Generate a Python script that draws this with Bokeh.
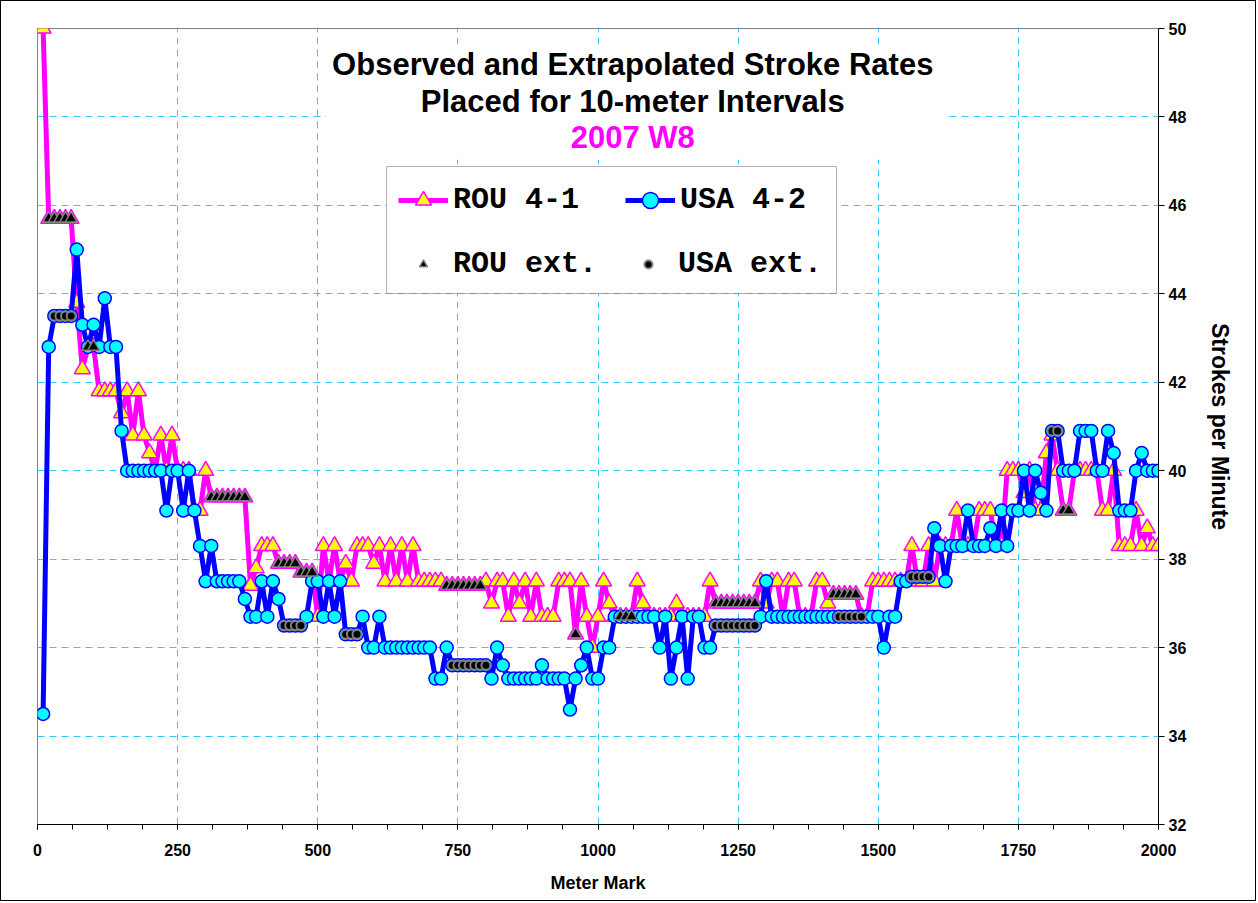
from bokeh.plotting import figure
from bokeh.models import (ColumnDataSource, Range1d, FixedTicker, Label,
                          BoxAnnotation, Legend, LegendItem)
from bokeh.embed import file_html
from bokeh.resources import INLINE

# ---------------- data ----------------
meters = [
    10, 20, 30, 40, 50, 60, 70, 80, 90, 100,
    110, 120, 130, 140, 150, 160, 170, 180, 190, 200,
    210, 220, 230, 240, 250, 260, 270, 280, 290, 300,
    310, 320, 330, 340, 350, 360, 370, 380, 390, 400,
    410, 420, 430, 440, 450, 460, 470, 480, 490, 500,
    510, 520, 530, 540, 550, 560, 570, 580, 590, 600,
    610, 620, 630, 640, 650, 660, 670, 680, 690, 700,
    710, 720, 730, 740, 750, 760, 770, 780, 790, 800,
    810, 820, 830, 840, 850, 860, 870, 880, 890, 900,
    910, 920, 930, 940, 950, 960, 970, 980, 990, 1000,
    1010, 1020, 1030, 1040, 1050, 1060, 1070, 1080, 1090, 1100,
    1110, 1120, 1130, 1140, 1150, 1160, 1170, 1180, 1190, 1200,
    1210, 1220, 1230, 1240, 1250, 1260, 1270, 1280, 1290, 1300,
    1310, 1320, 1330, 1340, 1350, 1360, 1370, 1380, 1390, 1400,
    1410, 1420, 1430, 1440, 1450, 1460, 1470, 1480, 1490, 1500,
    1510, 1520, 1530, 1540, 1550, 1560, 1570, 1580, 1590, 1600,
    1610, 1620, 1630, 1640, 1650, 1660, 1670, 1680, 1690, 1700,
    1710, 1720, 1730, 1740, 1750, 1760, 1770, 1780, 1790, 1800,
    1810, 1820, 1830, 1840, 1850, 1860, 1870, 1880, 1890, 1900,
    1910, 1920, 1930, 1940, 1950, 1960, 1970, 1980, 1990, 2000,
]

rou_spm = [
    50.0, 45.7, 45.7, 45.7, 45.7, 45.7, 43.8, 42.3, 42.8, 42.8,
    41.8, 41.8, 41.8, 41.8, 41.3, 41.8, 40.8, 41.8, 40.8, 40.4,
    40.0, 40.8, 40.0, 40.8, 40.0, 40.0, 40.0, 39.1, 39.1, 40.0,
    39.4, 39.4, 39.4, 39.4, 39.4, 39.4, 39.4, 37.4, 37.8, 38.3,
    38.3, 38.3, 37.9, 37.9, 37.9, 37.9, 37.7, 37.7, 37.7, 36.7,
    38.3, 37.5, 38.3, 37.5, 37.9, 37.5, 38.3, 38.3, 38.3, 37.9,
    38.3, 37.5, 38.3, 37.5, 38.3, 37.5, 38.3, 37.5, 37.5, 37.5,
    37.5, 37.5, 37.4, 37.4, 37.4, 37.4, 37.4, 37.4, 37.4, 37.5,
    37.0, 37.5, 37.5, 36.7, 37.5, 37.0, 37.5, 36.7, 37.5, 36.7,
    36.7, 36.7, 37.5, 37.5, 37.5, 36.3, 37.5, 36.7, 36.0, 36.7,
    37.5, 37.0, 36.7, 36.7, 36.7, 36.7, 37.5, 37.0, 36.7, 36.7,
    36.7, 36.7, 36.7, 37.0, 36.7, 36.7, 36.7, 36.7, 36.7, 37.5,
    37.0, 37.0, 37.0, 37.0, 37.0, 37.0, 37.0, 37.0, 37.5, 37.0,
    37.5, 37.5, 36.7, 37.5, 37.5, 36.7, 36.7, 36.7, 37.5, 37.5,
    37.0, 37.2, 37.2, 37.2, 37.2, 37.2, 36.7, 36.7, 37.5, 37.5,
    37.5, 37.5, 37.5, 37.5, 37.5, 38.3, 37.5, 37.5, 38.3, 37.5,
    38.3, 38.3, 38.3, 39.1, 38.3, 38.3, 38.3, 39.1, 39.1, 39.1,
    38.3, 38.3, 40.0, 40.0, 40.0, 39.5, 40.0, 39.1, 39.1, 40.4,
    40.8, 40.0, 39.1, 39.1, 40.0, 40.0, 40.0, 40.0, 40.0, 39.1,
    39.1, 40.0, 38.3, 38.3, 38.3, 39.1, 38.3, 38.7, 38.3, 38.3,
]

usa_spm = [
    34.5, 42.8, 43.5, 43.5, 43.5, 43.5, 45.0, 43.3, 42.8, 43.3,
    42.8, 43.9, 42.8, 42.8, 40.9, 40.0, 40.0, 40.0, 40.0, 40.0,
    40.0, 40.0, 39.1, 40.0, 40.0, 39.1, 40.0, 39.1, 38.3, 37.5,
    38.3, 37.5, 37.5, 37.5, 37.5, 37.5, 37.1, 36.7, 36.7, 37.5,
    36.7, 37.5, 37.1, 36.5, 36.5, 36.5, 36.5, 36.7, 37.5, 37.5,
    36.7, 37.5, 36.7, 37.5, 36.3, 36.3, 36.3, 36.7, 36.0, 36.0,
    36.7, 36.0, 36.0, 36.0, 36.0, 36.0, 36.0, 36.0, 36.0, 36.0,
    35.3, 35.3, 36.0, 35.6, 35.6, 35.6, 35.6, 35.6, 35.6, 35.6,
    35.3, 36.0, 35.6, 35.3, 35.3, 35.3, 35.3, 35.3, 35.3, 35.6,
    35.3, 35.3, 35.3, 35.3, 34.6, 35.3, 35.6, 36.0, 35.3, 35.3,
    36.0, 36.0, 36.7, 36.7, 36.7, 36.7, 36.7, 36.7, 36.7, 36.7,
    36.0, 36.7, 35.3, 36.0, 36.7, 35.3, 36.7, 36.7, 36.0, 36.0,
    36.5, 36.5, 36.5, 36.5, 36.5, 36.5, 36.5, 36.5, 36.7, 37.5,
    36.7, 36.7, 36.7, 36.7, 36.7, 36.7, 36.7, 36.7, 36.7, 36.7,
    36.7, 36.7, 36.7, 36.7, 36.7, 36.7, 36.7, 36.7, 36.7, 36.7,
    36.0, 36.7, 36.7, 37.5, 37.5, 37.6, 37.6, 37.6, 37.6, 38.7,
    38.3, 37.5, 38.3, 38.3, 38.3, 39.1, 38.3, 38.3, 38.3, 38.7,
    38.3, 39.1, 38.3, 39.1, 39.1, 40.0, 39.1, 40.0, 39.5, 39.1,
    40.9, 40.9, 40.0, 40.0, 40.0, 40.9, 40.9, 40.9, 40.0, 40.0,
    40.9, 40.4, 39.1, 39.1, 39.1, 40.0, 40.4, 40.0, 40.0, 40.0,
]

# meter marks whose stroke rate was extrapolated
rou_ext_meters = [20, 30, 40, 50, 60, 90, 100,
                  310, 320, 330, 340, 350, 360, 370,
                  430, 440, 450, 460, 470, 480, 490,
                  730, 740, 750, 760, 770, 780, 790, 960,
                  1040, 1050, 1060,
                  1210, 1220, 1230, 1240, 1250, 1260, 1270, 1280,
                  1420, 1430, 1440, 1450, 1460, 1830, 1840]
usa_ext_meters = [30, 40, 50, 60, 440, 450, 460, 470, 550, 560, 570,
                  740, 750, 760, 770, 780, 790, 800,
                  1210, 1220, 1230, 1240, 1250, 1260, 1270, 1280,
                  1430, 1440, 1450, 1460, 1470,
                  1560, 1570, 1580, 1590, 1810, 1820]

x_ticks = [0, 250, 500, 750, 1000, 1250, 1500, 1750, 2000]
y_ticks = [32, 34, 36, 38, 40, 42, 44, 46, 48, 50]

title_lines = ["Observed and Extrapolated Stroke Rates",
               "Placed for 10-meter Intervals"]
subtitle = "2007 W8"

# ---------------- sources ----------------
rou_lookup = dict(zip(meters, rou_spm))
usa_lookup = dict(zip(meters, usa_spm))
rou_src = ColumnDataSource(dict(m=meters, v=rou_spm))
usa_src = ColumnDataSource(dict(m=meters, v=usa_spm))
rou_ext_src = ColumnDataSource(dict(m=rou_ext_meters,
                                    v=[rou_lookup[m] for m in rou_ext_meters]))
usa_ext_src = ColumnDataSource(dict(m=usa_ext_meters,
                                    v=[usa_lookup[m] for m in usa_ext_meters]))

# ---------------- figure ----------------
p = figure(width=1256, height=901, output_backend="svg", toolbar_location=None,
           x_range=Range1d(0, 2000), y_range=Range1d(32, 50),
           y_axis_location="right",
           min_border_left=36, min_border_right=99,
           min_border_top=27, min_border_bottom=78)
p.styles = {"border": "1px solid black"}
p.background_fill_color = "white"
p.border_fill_color = "white"
p.outline_line_color = "#808080"
p.outline_line_width = 1

FONT = "Liberation Sans"

xa = p.xaxis[0]
xa.ticker = FixedTicker(ticks=x_ticks,
                        minor_ticks=[i * 62.5 for i in range(33)])
xa.axis_line_color = "black"
xa.major_tick_line_color = "black"
xa.minor_tick_line_color = "black"
xa.major_tick_in = 0
xa.major_tick_out = 5
xa.minor_tick_in = 0
xa.minor_tick_out = 5
xa.major_label_text_font = FONT
xa.major_label_text_font_style = "bold"
xa.major_label_text_font_size = "16px"
xa.major_label_text_color = "black"
xa.major_label_standoff = 14
xa.axis_label = "Meter Mark"
xa.axis_label_text_font = FONT
xa.axis_label_text_font_style = "bold"
xa.axis_label_text_font_size = "18px"
xa.axis_label_text_color = "black"
xa.axis_label_standoff = 14

ya = p.yaxis[0]
ya.ticker = FixedTicker(ticks=y_ticks)
ya.axis_line_color = "black"
ya.major_tick_line_color = "black"
ya.major_tick_in = 0
ya.major_tick_out = 6
ya.minor_tick_line_color = None
ya.major_label_text_font = FONT
ya.major_label_text_font_style = "bold"
ya.major_label_text_font_size = "16px"
ya.major_label_text_color = "black"
ya.major_label_standoff = 4
ya.axis_label = "Strokes per Minute"
ya.axis_label_text_font = FONT
ya.axis_label_text_font_style = "bold"
ya.axis_label_text_font_size = "23px"
ya.axis_label_text_color = "black"
ya.axis_label_standoff = 18

p.xgrid.ticker = FixedTicker(ticks=x_ticks)
p.ygrid.ticker = FixedTicker(ticks=y_ticks)
for g in (p.xgrid[0], p.ygrid[0]):
    g.grid_line_color = "#33CCFF"
    g.grid_line_dash = "7 5"
    g.grid_line_width = 1

# ---------------- series ----------------
r_rou_line = p.line("m", "v", source=rou_src, line_color="#FF00FF", line_width=5)
r_rou_pts = p.scatter("m", "v", source=rou_src, marker="triangle", size=16,
                      fill_color="#FFFF00", line_color="#FF00FF", line_width=1.5)
r_usa_line = p.line("m", "v", source=usa_src, line_color="#0000FF", line_width=5)
r_usa_pts = p.scatter("m", "v", source=usa_src, marker="circle", size=13,
                      fill_color="#00FFFF", line_color="#0000FF", line_width=1.5)
r_rou_ext = p.scatter("m", "v", source=rou_ext_src, marker="triangle", size=12,
                      fill_color="black", line_color="#808080", line_width=1.5)
r_usa_ext = p.scatter("m", "v", source=usa_ext_src, marker="circle", size=9,
                      fill_color="black", line_color="#808080", line_width=2)

# ---------------- title ----------------
p.add_layout(BoxAnnotation(left=514, right=1620, top=49.62, bottom=47.03,
                           fill_color="white", fill_alpha=1, line_color=None))
p.add_layout(Label(x=1062, y=49.186, text=title_lines[0], text_align="center",
                   text_baseline="middle", text_font=FONT, text_font_style="bold",
                   text_font_size="31px", text_color="black"))
p.add_layout(Label(x=1062, y=48.349, text=title_lines[1], text_align="center",
                   text_baseline="middle", text_font=FONT, text_font_style="bold",
                   text_font_size="31px", text_color="black"))
p.add_layout(Label(x=1062, y=47.535, text=subtitle, text_align="center",
                   text_baseline="middle", text_font=FONT, text_font_style="bold",
                   text_font_size="31px", text_color="#FF00FF"))

# ---------------- legend ----------------
p.add_layout(BoxAnnotation(left=622.7, right=1425.5, top=46.879, bottom=44.007,
                           fill_color="white", fill_alpha=1,
                           line_color="black", line_width=1))

common = dict(orientation="horizontal", padding=0, margin=0,
              border_line_color=None, background_fill_alpha=0,
              label_text_font="Liberation Mono", label_text_font_style="bold",
              label_text_font_size="30px", label_text_color="black",
              label_text_baseline="middle")
leg1 = Legend(items=[LegendItem(label="ROU 4-1", renderers=[r_rou_line, r_rou_pts]),
                     LegendItem(label="USA 4-2", renderers=[r_usa_line, r_usa_pts])],
              location=(361, 604), glyph_width=50, glyph_height=40,
              label_standoff=5, spacing=46, **common)
leg2 = Legend(items=[LegendItem(label="ROU ext.", renderers=[r_rou_ext]),
                     LegendItem(label="USA ext.", renderers=[r_usa_ext])],
              location=(376, 540), glyph_width=20, glyph_height=40,
              label_standoff=20, spacing=41, **common)
p.add_layout(leg1)
p.add_layout(leg2)

open("out.html", "w").write(file_html(p, INLINE))
